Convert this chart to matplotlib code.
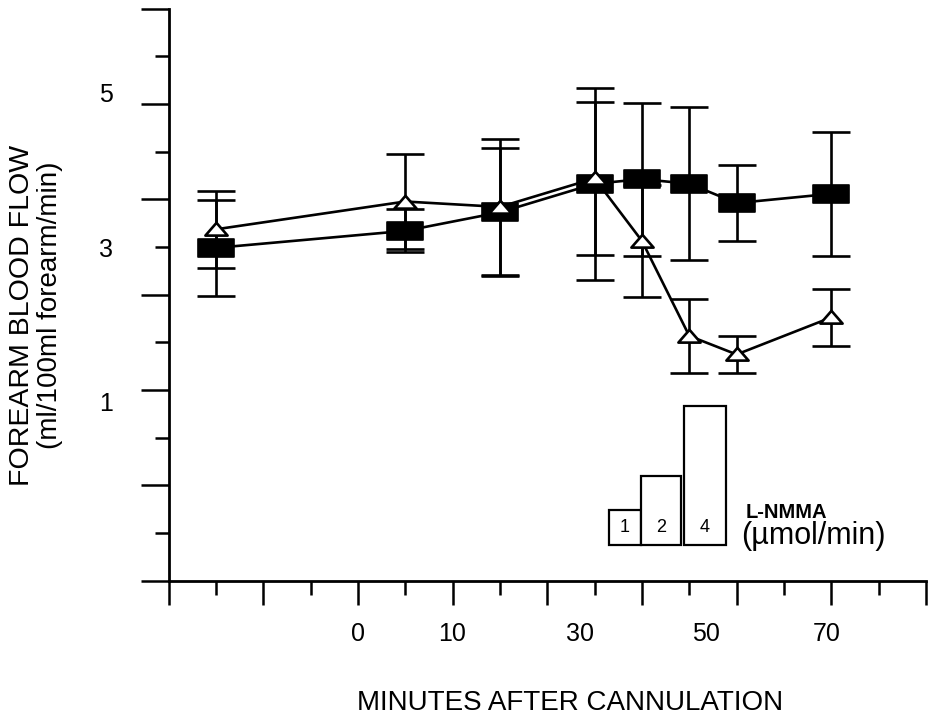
import numpy as np
import matplotlib
matplotlib.use('Agg')
import matplotlib.pyplot as plt
from matplotlib.path import Path

plt.rcParams['font.family'] = ['Liberation Sans', 'DejaVu Sans']

### data ###
# x positions on the time axis, counted in tick steps from the origin
x_slot = [1, 5, 7, 9, 10, 11, 12, 14]

# filled squares
sq_mean = [2.99, 3.21, 3.45, 3.82, 3.88, 3.82, 3.57, 3.69]
sq_err = [0.62, 0.28, 0.83, 1.24, 0.99, 0.99, 0.49, 0.80]

# open triangles
tri_mean = [3.23, 3.59, 3.52, 3.89, 3.08, 1.85, 1.61, 2.09]
tri_err = [0.50, 0.61, 0.88, 0.99, 0.73, 0.48, 0.24, 0.37]

# time axis labels and where they sit
time_labels = ['0', '10', '30', '50', '70']
time_label_pos = [4, 6, 8.7, 11.35, 13.9]

# flow axis labels
flow_labels = [5, 3, 1]

# L-NMMA doses (umol/min)
doses = [1, 2, 4]
#====================

### layout ###
step = 0.617                      # y tick spacing
y_ticks = 3 + step * np.arange(-7, 6)
y_long = y_ticks[::2]
y_short = y_ticks[1::2]

fig = plt.figure(figsize=(9.32, 7.21), dpi=100)
ax = fig.add_axes([168.5 / 932, 140.3 / 721, 757.5 / 932, 571.9 / 721])
ax.set_xlim(0, 16)
ax.set_ylim(y_ticks[0], y_ticks[-1])

for s in ['top', 'right']:
    ax.spines[s].set_visible(False)
for s in ['left', 'bottom']:
    ax.spines[s].set_linewidth(2.0)

ax.set_xticks(np.arange(0, 17, 2))
ax.set_xticks(np.arange(1, 16, 2), minor=True)
ax.set_yticks(y_long)
ax.set_yticks(y_short, minor=True)
ax.tick_params(which='both', direction='out', width=1.8, labelbottom=False, labelleft=False)
ax.tick_params(axis='x', which='major', length=17)
ax.tick_params(axis='x', which='minor', length=10)
ax.tick_params(axis='y', which='major', length=20)
ax.tick_params(axis='y', which='minor', length=10)

# labels sit on their own (tickless) axes
sx = ax.secondary_xaxis('bottom')
sx.set_xticks(time_label_pos)
sx.set_xticklabels(time_labels, fontsize=18)
sx.tick_params(length=0, pad=30)
sx.spines['bottom'].set_visible(False)

sy = ax.secondary_yaxis('left')
sy.set_yticks(flow_labels)
sy.set_yticklabels([str(v) for v in flow_labels], fontsize=18)
sy.tick_params(length=0, pad=40)
sy.spines['left'].set_visible(False)

### markers ###
rect = Path([(-1, -0.5), (1, -0.5), (1, 0.5), (-1, 0.5), (-1, -0.5)],
            [Path.MOVETO, Path.LINETO, Path.LINETO, Path.LINETO, Path.CLOSEPOLY])
tri = Path([(-1, -0.55), (1, -0.55), (0, 0.6), (-1, -0.55)],
           [Path.MOVETO, Path.LINETO, Path.LINETO, Path.CLOSEPOLY])

ax.errorbar(x_slot, sq_mean, yerr=sq_err, fmt='none', ecolor='black',
            elinewidth=1.9, capsize=14, capthick=1.9, zorder=2)
ax.plot(x_slot, sq_mean, color='black', lw=1.9, marker=rect, markersize=26,
        markerfacecolor='black', markeredgecolor='black', markeredgewidth=1.2,
        zorder=3)

ax.errorbar(x_slot, tri_mean, yerr=tri_err, fmt='none', ecolor='black',
            elinewidth=1.9, capsize=14, capthick=1.9, zorder=4)
ax.plot(x_slot, tri_mean, color='black', lw=1.9, zorder=4)
ax.plot(x_slot, tri_mean, linestyle='none', marker=tri, markersize=16,
        markerfacecolor='white', markeredgecolor='black', markeredgewidth=1.9,
        zorder=5)

### L-NMMA dose boxes ###
box_left = [9.30, 9.97, 10.88]
box_width = [0.67, 0.86, 0.90]
box_bottom = -0.855
box_scale = 0.4486
ax.bar(box_left, [d * box_scale for d in doses], width=box_width, bottom=box_bottom,
       align='edge', color='white', edgecolor='black', linewidth=1.6, zorder=2)
for l, w, d in zip(box_left, box_width, doses):
    ax.text(l + w / 2, -0.627, str(d), ha='center', va='center', fontsize=13)
ax.text(12.2, -0.43, 'L-NMMA', ha='left', va='center', fontsize=14.5,
        fontweight='bold')
ax.text(12.1, -0.74, '(\u00b5mol/min)', ha='left', va='center', fontsize=22)

### axis titles ###
fig.text(22 / 932, 1 - 315 / 721, 'FOREARM BLOOD FLOW', rotation=90,
         ha='center', va='center', fontsize=20.5)
fig.text(50 / 932, 1 - 305 / 721, '(ml/100ml forearm/min)', rotation=90,
         ha='center', va='center', fontsize=20)
fig.text(570 / 932, 1 - 703 / 721, 'MINUTES AFTER CANNULATION',
         ha='center', va='center', fontsize=20)

fig.savefig('out.png', dpi=100, facecolor='white')
